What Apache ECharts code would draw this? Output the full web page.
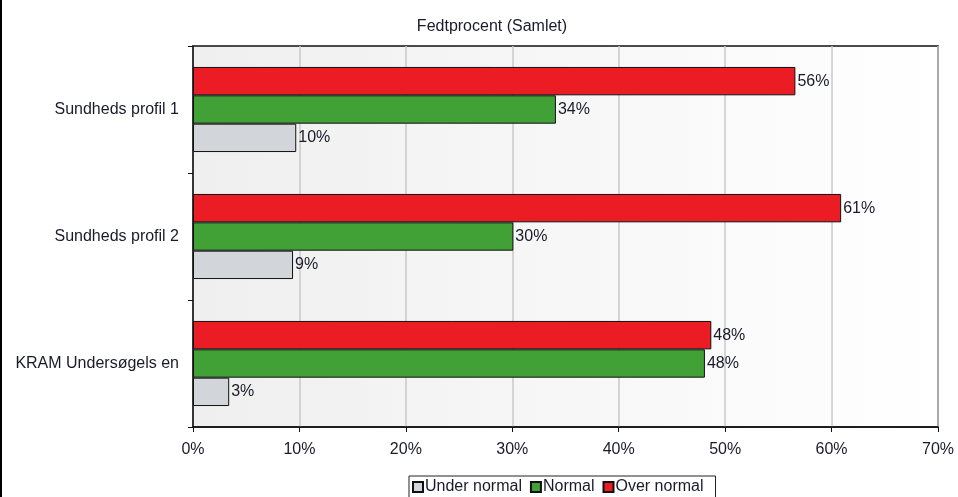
<!DOCTYPE html>
<html><head><meta charset="utf-8">
<script src="https://cdn.jsdelivr.net/npm/echarts@6/dist/echarts.min.js"></script>
<style>html,body{margin:0;padding:0;background:#fff}#c{width:958px;height:497px}</style>
</head><body><div id="c"></div>
<script>
// categories listed top-to-bottom as in the picture
const categories = ['Sundheds profil 1', 'Sundheds profil 2', 'KRAM Undersøgels en'];
const seriesNames = ['Under normal', 'Normal', 'Over normal'];
const underNormal = [9.7, 9.4, 3.4];
const normal = [34.1, 30.1, 48.1];
const overNormal = [56.6, 60.9, 48.7];
const underLabels = ['10%', '9%', '3%'];
const normalLabels = ['34%', '30%', '48%'];
const overLabels = ['56%', '61%', '48%'];
const xTicks = [0, 10, 20, 30, 40, 50, 60, 70];
const colors = ['#d2d5da', '#41a137', '#ec1c24'];

const cats = categories.slice().reverse();
const rev = a => a.slice().reverse();
const FONT = 'Liberation Sans, Arial, sans-serif';
const FS = 16;

function mk(name, vals, labels, color) {
  const lab = rev(labels);
  return {
    name, type: 'bar', data: rev(vals),
    barGap: '0%', barCategoryGap: '33%',
    itemStyle: { color, borderColor: '#111', borderWidth: 1 },
    label: { show: true, position: 'right', distance: 2, color: '#1a1a2a',
      fontFamily: FONT, fontSize: FS, formatter: p => lab[p.dataIndex] },
    emphasis: { disabled: true }, animation: false
  };
}

const chart = echarts.init(document.getElementById('c'), null, { renderer: 'canvas' });
chart.setOption({
  animation: false,
  title: { text: 'Fedtprocent (Samlet)', left: 487, top: 14, textAlign: 'center',
    textStyle: { fontFamily: FONT, fontSize: FS, fontWeight: 'normal', color: '#1a1a2a' } },
  grid: { left: 193, right: 20, top: 46, bottom: 70, show: true,
    borderColor: '#111', borderWidth: 1.5,
    backgroundColor: { type: 'linear', x: 0, y: 0, x2: 1, y2: 0,
      colorStops: [{ offset: 0, color: '#efefef' }, { offset: 1, color: '#ffffff' }] } },
  legend: { left: 409, top: 476, data: seriesNames, itemWidth: 10, itemHeight: 10,
    itemGap: 8, padding: [3, 12, 3, 3], borderColor: '#222', borderWidth: 1,
    icon: 'rect', textStyle: { fontFamily: FONT, fontSize: FS, color: '#1a1a2a', padding: [0, 0, 0, -3] } },
  xAxis: { type: 'value', min: xTicks[0], max: xTicks[xTicks.length - 1], interval: 10,
    axisLine: { show: true, lineStyle: { color: '#111', width: 1.5 } },
    axisTick: { show: true, length: 5, lineStyle: { color: '#111' } },
    splitLine: { show: true, lineStyle: { color: '#c8c8c8', width: 1.5 } },
    axisLabel: { fontFamily: FONT, fontSize: FS, color: '#1a1a2a', margin: 15, formatter: v => v + '%' } },
  yAxis: { type: 'category', data: cats,
    axisLine: { show: true, lineStyle: { color: '#111', width: 1.5 } },
    axisTick: { show: true, length: 5, lineStyle: { color: '#111' } },
    axisLabel: { fontFamily: FONT, fontSize: FS, color: '#1a1a2a', margin: 14 } },
  series: [
    mk(seriesNames[2], overNormal, overLabels, colors[2]),
    mk(seriesNames[1], normal, normalLabels, colors[1]),
    mk(seriesNames[0], underNormal, underLabels, colors[0])
  ],
  graphic: [{ type: 'rect', left: 0, top: 0, shape: { width: 2, height: 497 }, style: { fill: '#000' } }]
});
</script></body></html>
